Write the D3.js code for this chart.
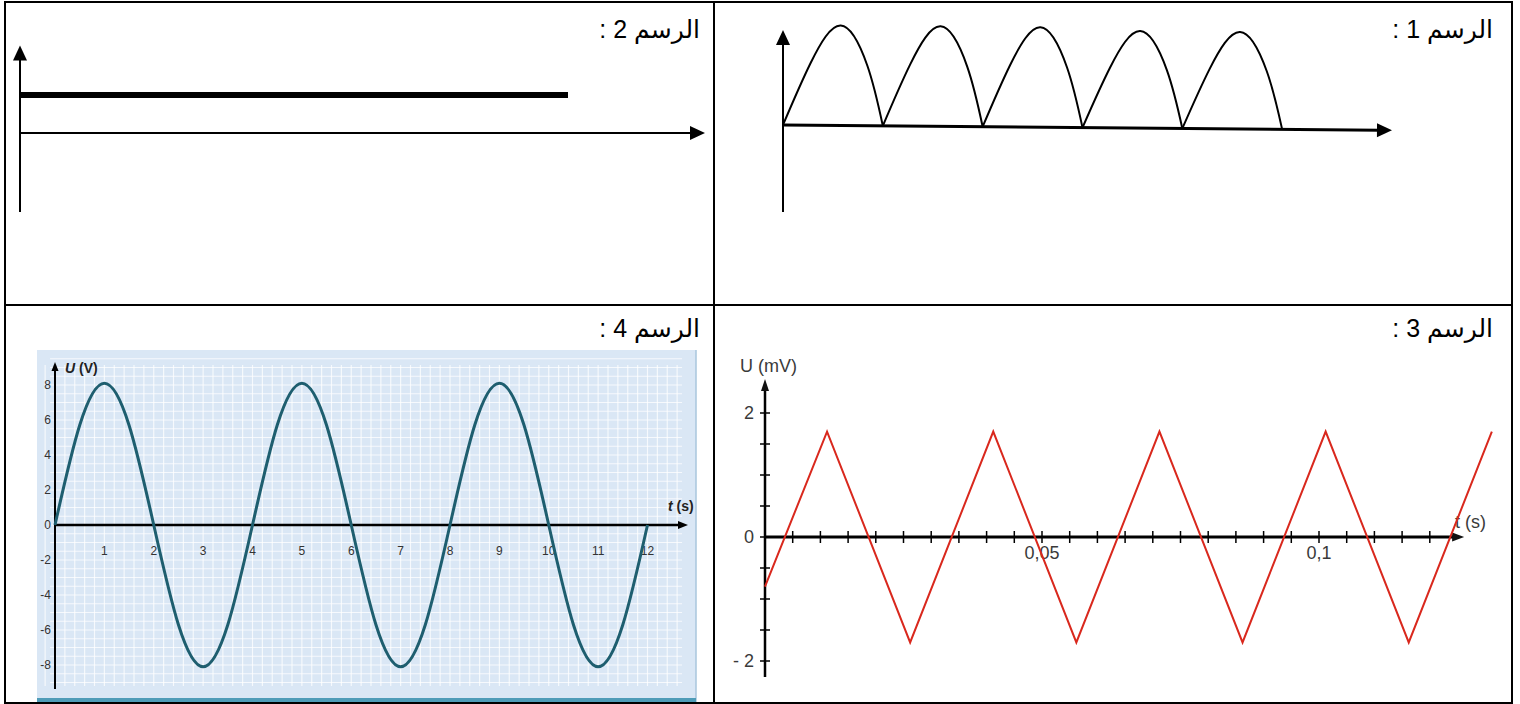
<!DOCTYPE html>
<meta charset="utf-8">
<style>
body {
  margin: 0;
  background: #fff;
}
svg {
  display: block;
  font-family: Arial, "Liberation Sans", "DejaVu Sans", sans-serif;
}
.cell {
  fill: none;
  stroke: #000;
  stroke-width: 2px;
}
.title {
  font-size: 25px;
  fill: #000;
}
.ax {
  stroke: #000;
  fill: none;
}
</style>
<body>
<script src="https://d3js.org/d3.v7.min.js"></script>
<script>
// ---------- data ----------
// الرسم 1 : rectified signal, one arch between each pair of zeros
var arch1Zeros = [0, 1, 2, 3, 4, 5];
var arch1Heights = [1, 1, 1, 0.97, 0.97];
// shape of one arch (position inside the arch, relative height)
var archS = [0, 0.27, 0.57, 0.84, 1];
var archH = [0, 0.62, 1, 0.6, 0];

// الرسم 2 : constant signal
var dcT = [0, 8];
var dcU = [1, 1];

// الرسم 3 : triangle signal, U (mV) vs t (s)
var triT = [0, 0.0112, 0.0262, 0.0412, 0.0562, 0.0712, 0.0862, 0.1012, 0.1162, 0.1312];
var triU = [-0.8, 1.7, -1.7, 1.7, -1.7, 1.7, -1.7, 1.7, -1.7, 1.7];
var triYTicks = [-2, -1.5, -1, -0.5, 0, 0.5, 1, 1.5, 2];
var triYLabels = [[2, "2"], [0, "0"], [-2, "- 2"]];
var triXLabels = [[0.05, "0,05"], [0.1, "0,1"]];

// الرسم 4 : sine signal, U (V) vs t (s)
var sinT = [0, 0.5, 1, 1.5, 2, 2.5, 3, 3.5, 4, 4.5, 5, 5.5, 6, 6.5, 7, 7.5, 8, 8.5, 9, 9.5, 10, 10.5, 11, 11.5, 12];
var sinU = [0, 5.7, 8.1, 5.7, 0, -5.7, -8.1, -5.7, 0, 5.7, 8.1, 5.7, 0, -5.7, -8.1, -5.7, 0, 5.7, 8.1, 5.7, 0, -5.7, -8.1, -5.7, 0];
var sinXTicks = [1, 2, 3, 4, 5, 6, 7, 8, 9, 10, 11, 12];
var sinYTicks = [8, 6, 4, 2, 0, -2, -4, -6, -8];

var titles = ["الرسم 1 :", "الرسم 2 :", "الرسم 3 :", "الرسم 4 :"];

// ---------- page ----------
var width = 1520, height = 704;
var svg = d3.select("body").append("svg")
    .attr("width", width)
    .attr("height", height);

function arrowHead(g, x, y, dir, len, wid, color) {
  var pts = dir == "up"
    ? [[x, y], [x - wid / 2, y + len], [x + wid / 2, y + len]]
    : [[x, y], [x - len, y - wid / 2], [x - len, y + wid / 2]];
  g.append("path")
      .attr("d", "M" + pts.join("L") + "Z")
      .attr("fill", color);
}

// ===== الرسم 1 =====
var p1 = svg.append("g");
var x1 = d3.scaleLinear().domain([0, 6.1]).range([783, 1392]);
var y1 = d3.scaleLinear().domain([0, 1]).range([125, 25]);

p1.append("line").attr("class", "ax")
    .attr("stroke-width", 2)
    .attr("x1", x1(0)).attr("x2", x1(0))
    .attr("y1", y1(-0.87)).attr("y2", y1(0.95) + 12);
arrowHead(p1, x1(0), y1(0.95), "up", 15, 14, "#000");

var p1t = p1.append("g").attr("transform", "rotate(0.5," + x1(0) + "," + y1(0) + ")");
p1t.append("line").attr("class", "ax")
    .attr("stroke-width", 3)
    .attr("x1", x1(0)).attr("x2", x1(6.1) - 12)
    .attr("y1", y1(0)).attr("y2", y1(0));
arrowHead(p1t, x1(6.1), y1(0), "right", 15, 14, "#000");

var archLine = d3.line()
    .x(function(d) { return x1(d[0]); })
    .y(function(d) { return y1(d[1]); })
    .curve(d3.curveNatural);
arch1Heights.forEach(function(h, i) {
  var a = arch1Zeros[i], b = arch1Zeros[i + 1];
  var pts = archS.map(function(s, j) { return [a + s * (b - a), archH[j] * h]; });
  p1t.append("path")
      .datum(pts)
      .attr("d", archLine)
      .attr("fill", "none")
      .attr("stroke", "#000")
      .attr("stroke-width", 2);
});

// ===== الرسم 2 =====
var p2 = svg.append("g");
var x2 = d3.scaleLinear().domain([0, 10]).range([20, 705]);
var y2 = d3.scaleLinear().domain([0, 1]).range([133, 95]);

p2.append("line").attr("class", "ax")
    .attr("stroke-width", 2)
    .attr("x1", x2(0)).attr("x2", x2(0))
    .attr("y1", y2(-2.08)).attr("y2", y2(2.3) + 12);
arrowHead(p2, x2(0), y2(2.3), "up", 15, 14, "#000");
p2.append("line").attr("class", "ax")
    .attr("stroke-width", 2)
    .attr("x1", x2(0)).attr("x2", x2(10) - 12)
    .attr("y1", y2(0)).attr("y2", y2(0));
arrowHead(p2, x2(10), y2(0), "right", 15, 14, "#000");

p2.append("path")
    .datum(dcT.map(function(t, i) { return [t, dcU[i]]; }))
    .attr("d", d3.line().x(function(d) { return x2(d[0]); }).y(function(d) { return y2(d[1]); }))
    .attr("fill", "none")
    .attr("stroke", "#000")
    .attr("stroke-width", 6);

// ===== الرسم 3 =====
var p3 = svg.append("g");
var x3 = d3.scaleLinear().domain([0, 0.05]).range([765, 1042]);
var y3 = d3.scaleLinear().domain([-2, 2]).range([661, 413]);

p3.append("line").attr("class", "ax")
    .attr("stroke", "#111").attr("stroke-width", 2.5)
    .attr("x1", x3(0)).attr("x2", x3(0))
    .attr("y1", y3(-2.26)).attr("y2", y3(2.55) + 10);
arrowHead(p3, x3(0), y3(2.55), "up", 12, 8, "#111");
p3.append("line").attr("class", "ax")
    .attr("stroke", "#111").attr("stroke-width", 3)
    .attr("x1", x3(0)).attr("x2", x3(0.1262) - 10)
    .attr("y1", y3(0)).attr("y2", y3(0));
arrowHead(p3, x3(0.1262), y3(0), "right", 12, 9, "#111");

p3.selectAll(".yt").data(triYTicks).enter().append("line")
    .attr("class", "ax").attr("stroke", "#111").attr("stroke-width", 1.5)
    .attr("x1", x3(0) - 5).attr("x2", x3(0) + 5)
    .attr("y1", function(d) { return y3(d); })
    .attr("y2", function(d) { return y3(d); });
p3.selectAll(".xt").data(d3.range(1, 25).map(function(i) { return i * 0.005; })).enter().append("line")
    .attr("class", "ax").attr("stroke", "#111").attr("stroke-width", 1.5)
    .attr("x1", function(d) { return x3(d); })
    .attr("x2", function(d) { return x3(d); })
    .attr("y1", y3(0) - 6).attr("y2", y3(0) + 6);

p3.selectAll(".yl").data(triYLabels).enter().append("text")
    .attr("x", x3(0) - 11)
    .attr("y", function(d) { return y3(d[0]); })
    .attr("dy", "0.35em")
    .attr("text-anchor", "end")
    .attr("font-size", 18)
    .attr("fill", "#3a3a3a")
    .text(function(d) { return d[1]; });
p3.selectAll(".xl").data(triXLabels).enter().append("text")
    .attr("x", function(d) { return x3(d[0]); })
    .attr("y", y3(0) + 22)
    .attr("text-anchor", "middle")
    .attr("font-size", 18)
    .attr("fill", "#3a3a3a")
    .text(function(d) { return d[1]; });
p3.append("text")
    .attr("x", 740).attr("y", 372)
    .attr("font-size", 18).attr("fill", "#3a3a3a")
    .text("U (mV)");
p3.append("text")
    .attr("x", 1455).attr("y", 528)
    .attr("font-size", 18).attr("fill", "#3a3a3a")
    .text("t (s)");

p3.append("path")
    .datum(triT.map(function(t, i) { return [t, triU[i]]; }))
    .attr("d", d3.line().x(function(d) { return x3(d[0]); }).y(function(d) { return y3(d[1]); }))
    .attr("fill", "none")
    .attr("stroke", "#d9281d")
    .attr("stroke-width", 2);

// ===== الرسم 4 =====
var p4 = svg.append("g");
var x4 = d3.scaleLinear().domain([0, 12]).range([55, 647.5]);
var y4 = d3.scaleLinear().domain([-8, 8]).range([665, 385]);

p4.append("rect")
    .attr("x", 37).attr("y", 350).attr("width", 659).attr("height", 352)
    .attr("fill", "#dae7f5");
p4.append("line")
    .attr("x1", 696).attr("x2", 696).attr("y1", 350).attr("y2", 702)
    .attr("stroke", "#a9c6dc").attr("stroke-width", 1.5);
p4.append("rect")
    .attr("x", 37).attr("y", 698).attr("width", 659).attr("height", 4)
    .attr("fill", "#4f9cb8");

var gridG = p4.append("g").attr("stroke", "#fff").attr("stroke-opacity", 0.75).attr("stroke-width", 1.2);
gridG.selectAll(".gv").data(d3.range(-0.2, 12.7, 0.2)).enter().append("line")
    .attr("x1", function(d) { return x4(d); })
    .attr("x2", function(d) { return x4(d); })
    .attr("y1", 365).attr("y2", 686);
gridG.selectAll(".gh").data(d3.range(-9, 9.6, 0.5)).enter().append("line")
    .attr("y1", function(d) { return y4(d); })
    .attr("y2", function(d) { return y4(d); })
    .attr("x1", x4(-0.1)).attr("x2", x4(12.7));

p4.append("line").attr("class", "ax")
    .attr("stroke-width", 2)
    .attr("x1", x4(0)).attr("x2", x4(0))
    .attr("y1", 689).attr("y2", 370);
arrowHead(p4, x4(0), 362, "up", 9, 7, "#000");
p4.append("line").attr("class", "ax")
    .attr("stroke-width", 2.5)
    .attr("x1", x4(0)).attr("x2", 679)
    .attr("y1", y4(0)).attr("y2", y4(0));
arrowHead(p4, 688, y4(0), "right", 10, 8, "#000");

p4.selectAll(".xl").data(sinXTicks).enter().append("text")
    .attr("x", function(d) { return x4(d); })
    .attr("y", y4(0) + 30)
    .attr("text-anchor", "middle")
    .attr("font-size", 12)
    .attr("fill", "#333")
    .text(function(d) { return d; });
p4.selectAll(".yl").data(sinYTicks).enter().append("text")
    .attr("x", 51)
    .attr("y", function(d) { return y4(d); })
    .attr("dy", "0.35em")
    .attr("text-anchor", "end")
    .attr("font-size", 12)
    .attr("fill", "#333")
    .text(function(d) { return d; });

var uLab = p4.append("text").attr("x", 65).attr("y", 373).attr("font-size", 14).attr("fill", "#222");
uLab.append("tspan").attr("font-style", "italic").attr("font-weight", "bold").text("U");
uLab.append("tspan").attr("font-weight", "bold").text(" (V)");
var tLab = p4.append("text").attr("x", 668).attr("y", 511).attr("font-size", 14).attr("fill", "#222");
tLab.append("tspan").attr("font-style", "italic").attr("font-weight", "bold").text("t");
tLab.append("tspan").attr("font-weight", "bold").text(" (s)");

p4.append("path")
    .datum(sinT.map(function(t, i) { return [t, sinU[i]]; }))
    .attr("d", d3.line().x(function(d) { return x4(d[0]); }).y(function(d) { return y4(d[1]); }).curve(d3.curveNatural))
    .attr("fill", "none")
    .attr("stroke", "#1e5e6f")
    .attr("stroke-width", 3);

// ===== table and titles =====
var colX = [5, 714, 1512], rowY = [2, 305, 703];
svg.append("rect").attr("class", "cell")
    .attr("x", colX[0]).attr("y", rowY[0])
    .attr("width", colX[2] - colX[0]).attr("height", rowY[2] - rowY[0]);
svg.append("line").attr("class", "cell")
    .attr("x1", colX[1]).attr("x2", colX[1]).attr("y1", rowY[0]).attr("y2", rowY[2]);
svg.append("line").attr("class", "cell")
    .attr("x1", colX[0]).attr("x2", colX[2]).attr("y1", rowY[1]).attr("y2", rowY[1]);

var titlePos = [[1493, 38], [700, 38], [1493, 337], [700, 337]];
svg.selectAll(".title").data(titles).enter().append("text")
    .attr("class", "title")
    .attr("x", function(d, i) { return titlePos[i][0]; })
    .attr("y", function(d, i) { return titlePos[i][1]; })
    .attr("direction", "rtl")
    .attr("text-anchor", "start")
    .text(function(d) { return d; });
</script>
